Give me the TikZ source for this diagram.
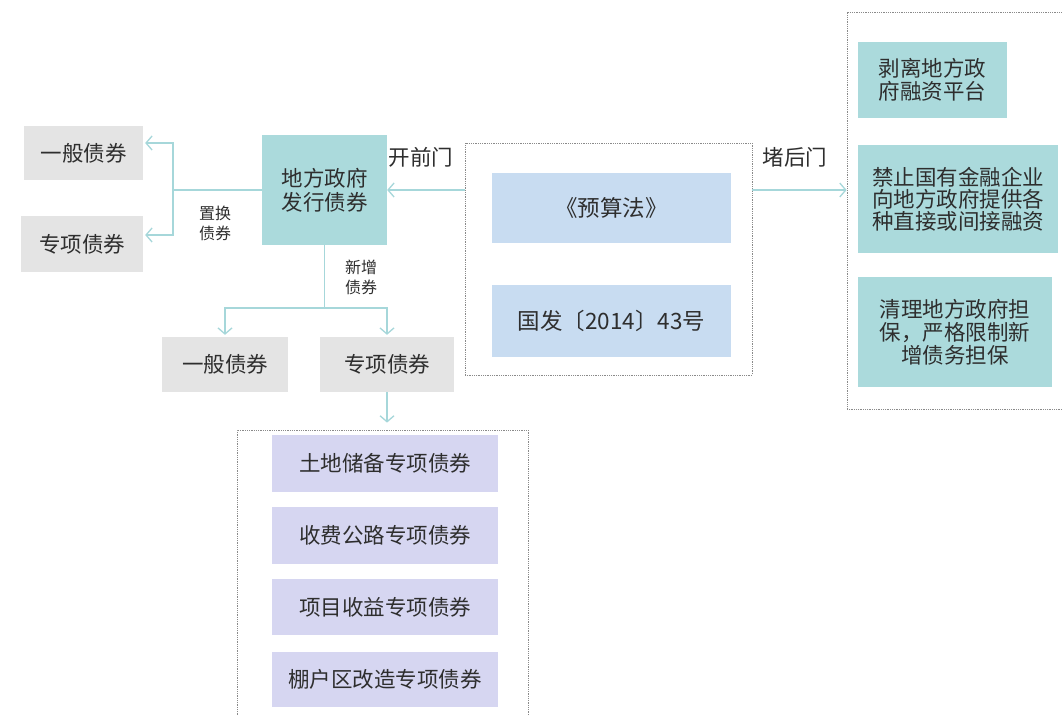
\documentclass[tikz,border=0pt]{standalone}
\usepackage{fontspec}
\setmainfont{Noto Sans CJK SC}
\usetikzlibrary{arrows.meta}
\definecolor{graybox}{HTML}{E4E4E4}
\definecolor{tealbox}{HTML}{ABDADC}
\definecolor{bluebox}{HTML}{C8DCF1}
\definecolor{lavbox}{HTML}{D6D6F1}
\definecolor{connc}{HTML}{A6D7DA}
\definecolor{txt}{HTML}{2E2E2E}
\definecolor{dotc}{HTML}{8A8A8A}
\begin{document}
\begin{tikzpicture}[x=1pt,y=-1pt,
  box/.style={rectangle, inner sep=0pt, align=center, text=txt,
    font=\fontsize{21.5}{24}\selectfont},
  gbox/.style={box, fill=graybox},
  tbox/.style={box, fill=tealbox},
  bbox/.style={box, fill=bluebox},
  lbox/.style={box, fill=lavbox},
  frame/.style={rectangle, draw=dotc, densely dotted, line width=0.8pt, inner sep=0pt},
  conn/.style={draw=connc, line width=1.5pt},
  arr/.style={conn, -{Straight Barb[length=6pt,width=14pt,line width=1.3pt]}},
  lbl/.style={text=txt, align=center, inner sep=0pt, font=\fontsize{21.5}{24}\selectfont},
  slbl/.style={text=txt, align=center, inner sep=0pt, font=\fontsize{16}{20}\selectfont}
]
\useasboundingbox[fill=white] (0,0) rectangle (1062,715);

% frames
\node[frame, minimum width=287pt, minimum height=232pt] (frame2) at (608.5,259) {};
\node[frame, minimum width=291pt, minimum height=300pt] (frame3) at (382.5,580) {};
\node[frame, minimum width=240pt, minimum height=397pt] (frame4) at (967,210.5) {};

% left boxes
\node[gbox, minimum width=119pt, minimum height=54pt] (yb1) at (83.5,153) {一般债券};
\node[gbox, minimum width=122pt, minimum height=56pt] (zx1) at (82,244) {专项债券};
\node[tbox, minimum width=125pt, minimum height=110pt] (dfzf) at (324.5,190) {地方政府\\发行债券};
\node[gbox, minimum width=126pt, minimum height=55pt] (yb2) at (225,364.5) {一般债券};
\node[gbox, minimum width=134pt, minimum height=55pt] (zx2) at (387,364.5) {专项债券};

% bottom lavender boxes
\node[lbox, minimum width=226pt, minimum height=57pt] (p1) at (385,463.5) {土地储备专项债券};
\node[lbox, minimum width=226pt, minimum height=57pt] (p2) at (385,535.5) {收费公路专项债券};
\node[lbox, minimum width=226pt, minimum height=56pt] (p3) at (385,607) {项目收益专项债券};
\node[lbox, minimum width=226pt, minimum height=55pt] (p4) at (385,679.5) {棚户区改造专项债券};

% middle blue boxes
\node[bbox, minimum width=239pt, minimum height=70pt, font=\fontsize{22.5}{24}\selectfont] (b1) at (611.5,208) {《预算法》};
\node[bbox, minimum width=239pt, minimum height=72pt, font=\fontsize{22.5}{24}\selectfont] (b2) at (611.5,321) {国发〔2014〕43号};

% right teal boxes
\node[tbox, minimum width=149pt, minimum height=76pt, font=\fontsize{21.5}{23}\selectfont] (t1) at (932.5,80) {剥离地方政\\府融资平台};
\node[tbox, minimum width=200pt, minimum height=108pt, font=\fontsize{21.5}{22}\selectfont] (t2) at (958,199) {禁止国有金融企业\\向地方政府提供各\\种直接或间接融资};
\node[tbox, minimum width=194pt, minimum height=110pt, font=\fontsize{21.5}{23}\selectfont] (t3) at (955,332) {清理地方政府担\\保，严格限制新\\增债务担保};

% labels
\node[lbl] (kqm) at (421,157) {开前门};
\node[lbl] (dhm) at (795,157) {堵后门};
\node[slbl] (zhzq) at (215,223) {置换\\债券};
\node[slbl] (xzzq) at (361,277) {新增\\债券};

% connectors
\coordinate (j1) at (173,190);
\coordinate (j2) at (324.5,308);
\draw[conn] (dfzf.west) -- (j1);
\draw[arr, shorten >=2pt] (j1) |- ([yshift=10pt]yb1.east);
\draw[arr, shorten >=2pt] (j1) |- ([yshift=9pt]zx1.east);
\draw[conn] (dfzf.south) -- (j2);
\draw[arr, shorten >=2pt] (j2) -| (yb2.north);
\draw[arr, shorten >=2pt] (j2) -| (zx2.north);
\draw[arr, shorten >=7pt] (zx2.south) -- (zx2.south |- frame3.north);
\draw[arr] (frame2.west |- dfzf.east) -- (dfzf.east);
\draw[arr] (frame2.east |- dfzf.east) -- (frame4.west |- dfzf.east);
\end{tikzpicture}
\end{document}
